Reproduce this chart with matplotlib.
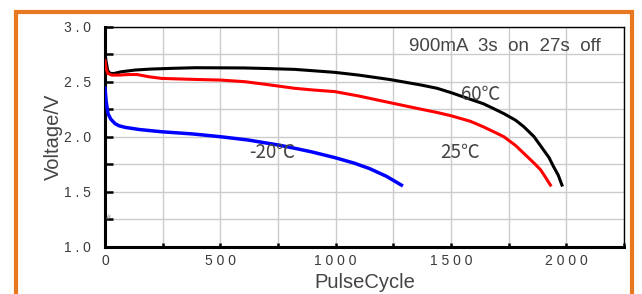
import matplotlib
matplotlib.use("Agg")
import matplotlib.pyplot as plt
from matplotlib.patches import Rectangle
from matplotlib.ticker import MultipleLocator, FixedLocator

plt.rcParams['font.family'] = ['Liberation Sans', 'DejaVu Sans']

# 60 C (black)
x60 = [0, 5, 12, 22, 40, 70, 130, 200, 300, 390, 500, 600, 700, 822, 900, 996, 1100, 1234, 1370, 1440, 1501, 1584, 1640, 1690, 1729, 1780, 1816, 1860, 1901, 1925, 1944, 1965, 1981]
v60 = [2.76, 2.68, 2.60, 2.575, 2.575, 2.59, 2.606, 2.615, 2.622, 2.627, 2.626, 2.625, 2.62, 2.612, 2.60, 2.585, 2.56, 2.52, 2.47, 2.44, 2.40, 2.34, 2.30, 2.25, 2.21, 2.15, 2.09, 2.00, 1.88, 1.81, 1.73, 1.65, 1.56]

# 25 C (red)
x25 = [0, 5, 12, 30, 60, 100, 140, 190, 245, 320, 400, 500, 606, 700, 822, 900, 996, 1100, 1234, 1370, 1440, 1501, 1584, 1640, 1690, 1729, 1780, 1830, 1860, 1888, 1910, 1931]
v25 = [2.69, 2.62, 2.575, 2.56, 2.56, 2.565, 2.565, 2.545, 2.53, 2.525, 2.52, 2.515, 2.50, 2.475, 2.44, 2.425, 2.41, 2.37, 2.31, 2.25, 2.22, 2.19, 2.14, 2.09, 2.04, 2.00, 1.92, 1.82, 1.76, 1.70, 1.63, 1.56]

# -20 C (blue)
xm20 = [0, 5, 13, 25, 43, 60, 87, 150, 245, 380, 500, 620, 750, 822, 900, 996, 1080, 1147, 1220, 1285]
vm20 = [2.44, 2.32, 2.21, 2.16, 2.12, 2.10, 2.085, 2.065, 2.045, 2.025, 2.0, 1.97, 1.925, 1.895, 1.86, 1.81, 1.76, 1.71, 1.64, 1.56]

xticks = [0, 500, 1000, 1500, 2000]
xtick_labels = ["0", "5 0 0", "1 0 0 0", "1 5 0 0", "2 0 0 0"]
yticks = [1.0, 1.5, 2.0, 2.5, 3.0]
ytick_labels = ["1 . 0", "1 . 5", "2 . 0", "2 . 5", "3 . 0"]

fig = plt.figure(figsize=(6.42, 2.94), dpi=100)
fig.patch.set_facecolor('white')

# orange frame
frame = Rectangle((15.5 / 642, -0.05), (631.5 - 15.5) / 642, 1.05 - 11.5 / 294,
                  transform=fig.transFigure, fill=False, edgecolor='#E8781F',
                  linewidth=3.0, zorder=0)
fig.add_artist(frame)

ax = fig.add_axes([105 / 642, 47.3 / 294, (624 - 105) / 642, 220 / 294])
ax.set_xlim(0, 2250)
ax.set_ylim(1.0, 3.0)

ax.plot(x60, v60, color='black', lw=2.2, zorder=3)
ax.plot(x25, v25, color='#FF0000', lw=2.2, zorder=3)
ax.plot(xm20, vm20, color='#0000FF', lw=2.5, zorder=3)

ax.xaxis.set_major_locator(FixedLocator(xticks))
ax.set_xticklabels(xtick_labels)
ax.xaxis.set_minor_locator(MultipleLocator(250))
ax.yaxis.set_major_locator(FixedLocator(yticks))
ax.set_yticklabels(ytick_labels)
ax.yaxis.set_minor_locator(MultipleLocator(0.25))

ax.grid(True, which='both', color='#CCCCCC', lw=1.0, zorder=1)
ax.set_axisbelow(True)

ax.tick_params(axis='both', which='both', direction='in', labelsize=10,
               labelcolor='#3a3a3a', top=False, right=False)
ax.tick_params(axis='y', which='both', length=6, width=1.8, pad=10)
ax.tick_params(axis='x', which='both', length=3, width=1.8, pad=5)

for s in ['left', 'bottom']:
    ax.spines[s].set_linewidth(2.2)
for s in ['top', 'right']:
    ax.spines[s].set_linewidth(1.0)
for s in ax.spines.values():
    s.set_color('black')

ax.set_xlabel('PulseCycle', fontsize=14.5, color='#444444', labelpad=4)
ax.set_ylabel('Voltage/V', fontsize=14.5, color='#444444', labelpad=1)

ax.text(1732, 2.82, '900mA  3s  on  27s  off', fontsize=13.5, color='#444444',
        ha='center', va='center', zorder=4)
cjk = ['Noto Sans CJK SC', 'DejaVu Sans']
ax.text(1630, 2.385, '60\u2103', fontsize=13.5, color='#444444',
        ha='center', va='center', zorder=4, family=cjk)
ax.text(1540, 1.86, '25\u2103', fontsize=13.5, color='#444444',
        ha='center', va='center', zorder=4, family=cjk)
ax.text(725, 1.86, '-20\u2103', fontsize=13.5, color='#444444',
        ha='center', va='center', zorder=4, family=cjk)
ax.text(12, 1.28, '\u2248', fontsize=6, color='#777777', rotation=60,
        ha='center', va='center', zorder=4, family=['DejaVu Sans'])

fig.savefig('out.png', dpi=100)
